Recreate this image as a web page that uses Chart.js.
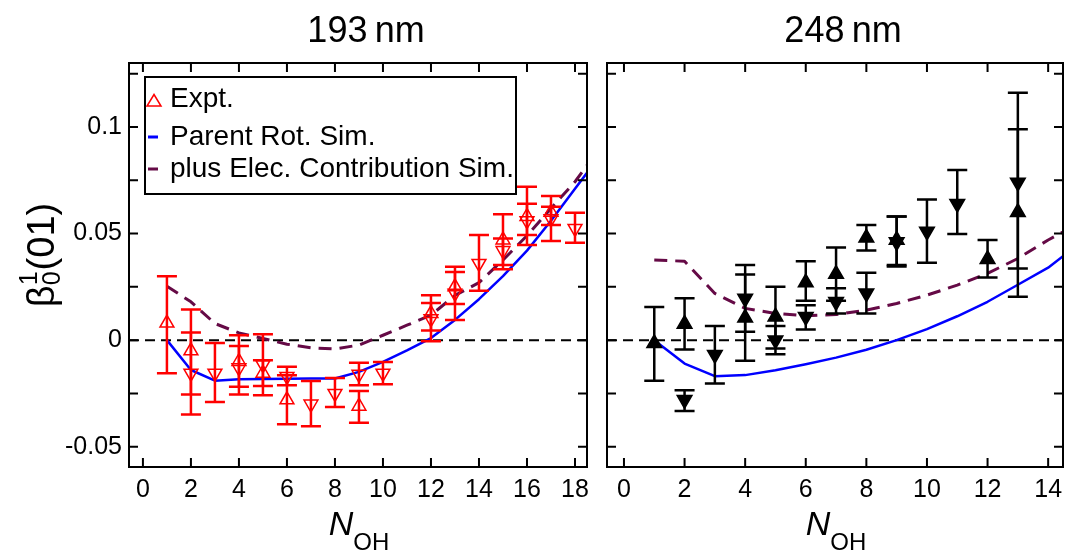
<!DOCTYPE html>
<html>
<head>
<meta charset="utf-8">
<script src="https://cdn.jsdelivr.net/npm/chart.js@4/dist/chart.umd.min.js"></script>
<style>
  html, body { margin: 0; padding: 0; background: #fff; }
  #wrap { position: relative; width: 1065px; height: 552px; overflow: hidden; }
  canvas { position: absolute; top: 0; }
  #c193 { left: 0; }
  #c248 { left: 597px; }
</style>
</head>
<body>
<div id="wrap">
  <canvas id="c193" width="597" height="552"></canvas>
  <canvas id="c248" width="468" height="552"></canvas>
</div>
<script>
const FONT = "'Liberation Sans', Arial, Helvetica, sans-serif";
const RED = "#ff0000";
const BLUE = "#0000ff";
const PURPLE = "#650a46";

// ---- 193 nm ----
const simN193 = [1, 2, 3, 4, 5, 6, 7, 8, 9, 10, 11, 12, 13, 14, 15, 16, 17, 18, 18.5];
const parentRot193 = [0, -0.014, -0.019, -0.0183, -0.0182, -0.0181, -0.018, -0.018, -0.0149, -0.0102,
  -0.0048, 0.001, 0.0095, 0.0192, 0.030, 0.042, 0.056, 0.071, 0.0785];
const elecContrib193 = [0.0253, 0.018, 0.0078, 0.0034, 0.0008, -0.0019, -0.0036, -0.0041, -0.0023, 0.0023,
  0.007, 0.0117, 0.021, 0.027, 0.0376, 0.049, 0.0618, 0.0743, 0.082];
// expt points: value with lower / upper end of the error bar
const exptUp193 = [
  { x: 1, y: 0.008, lo: -0.0155, hi: 0.030 },
  { x: 2, y: -0.005, lo: -0.0255, hi: 0.0144 },
  { x: 4, y: -0.010, lo: -0.0219, hi: 0.0023 },
  { x: 5, y: -0.0155, lo: -0.0215, hi: -0.0094 },
  { x: 6, y: -0.028, lo: -0.0394, hi: -0.0165 },
  { x: 9, y: -0.031, lo: -0.0388, hi: -0.0238 },
  { x: 12, y: 0.0125, lo: 0.0045, hi: 0.0211 },
  { x: 13, y: 0.025, lo: 0.017, hi: 0.0344 },
  { x: 15, y: 0.047, lo: 0.0352, hi: 0.059 },
  { x: 16, y: 0.058, lo: 0.0446, hi: 0.072 },
  { x: 17, y: 0.060, lo: 0.054, hi: 0.0676 },
];
const exptDown193 = [
  { x: 2, y: -0.0155, lo: -0.0349, hi: 0.0036 },
  { x: 3, y: -0.0155, lo: -0.029, hi: -0.0013 },
  { x: 4, y: -0.013, lo: -0.0255, hi: -0.0028 },
  { x: 5, y: -0.0115, lo: -0.0258, hi: 0.0028 },
  { x: 6, y: -0.017, lo: -0.0211, hi: -0.0125 },
  { x: 7, y: -0.030, lo: -0.0404, hi: -0.0192 },
  { x: 8, y: -0.025, lo: -0.0313, hi: -0.0177 },
  { x: 9, y: -0.016, lo: -0.0211, hi: -0.0106 },
  { x: 10, y: -0.0155, lo: -0.0207, hi: -0.0103 },
  { x: 12, y: 0.010, lo: -0.0005, hi: 0.0174 },
  { x: 13, y: 0.022, lo: 0.0094, hi: 0.032 },
  { x: 14, y: 0.036, lo: 0.0232, hi: 0.0493 },
  { x: 15, y: 0.042, lo: 0.0332, hi: 0.0477 },
  { x: 16, y: 0.056, lo: 0.0493, hi: 0.064 },
  { x: 17, y: 0.057, lo: 0.0465, hi: 0.0626 },
  { x: 18, y: 0.0524, lo: 0.0457, hi: 0.0598 },
];

// ---- 248 nm ----
const simN248 = [1, 2, 3, 4, 5, 6, 7, 8, 9, 10, 11, 12, 13, 14, 14.5];
const parentRot248 = [0, -0.011, -0.0169, -0.0164, -0.0141, -0.0113, -0.0082, -0.0045, 0.0, 0.0052,
  0.0112, 0.018, 0.026, 0.034, 0.0395];
const elecContrib248 = [0.0376, 0.037, 0.0219, 0.0149, 0.0125, 0.0114, 0.012, 0.0141, 0.0172, 0.0211,
  0.0258, 0.0313, 0.0383, 0.047, 0.0508];
const exptUp248 = [
  { x: 1, y: -0.0015, lo: -0.019, hi: 0.0156 },
  { x: 2, y: 0.0076, lo: -0.0044, hi: 0.0196 },
  { x: 4, y: 0.0105, lo: -0.0097, hi: 0.0308 },
  { x: 5, y: 0.011, lo: -0.0039, hi: 0.025 },
  { x: 6, y: 0.027, lo: 0.0185, hi: 0.037 },
  { x: 7, y: 0.031, lo: 0.0185, hi: 0.0435 },
  { x: 8, y: 0.048, lo: 0.042, hi: 0.054 },
  { x: 9, y: 0.047, lo: 0.0352, hi: 0.058 },
  { x: 12, y: 0.038, lo: 0.0294, hi: 0.047 },
  { x: 13, y: 0.060, lo: 0.0336, hi: 0.0989 },
];
const exptDown248 = [
  { x: 2, y: -0.028, lo: -0.0332, hi: -0.0235 },
  { x: 3, y: -0.0068, lo: -0.0203, hi: 0.0066 },
  { x: 4, y: 0.0195, lo: 0.0039, hi: 0.0352 },
  { x: 5, y: 0.0, lo: -0.0066, hi: 0.0066 },
  { x: 6, y: 0.011, lo: 0.005, hi: 0.0164 },
  { x: 7, y: 0.018, lo: 0.0125, hi: 0.0243 },
  { x: 8, y: 0.022, lo: 0.0125, hi: 0.0316 },
  { x: 9, y: 0.046, lo: 0.0345, hi: 0.058 },
  { x: 10, y: 0.051, lo: 0.0363, hi: 0.066 },
  { x: 11, y: 0.064, lo: 0.0498, hi: 0.0798 },
  { x: 13, y: 0.074, lo: 0.0203, hi: 0.116 },
];

// ---- axes ----
const xTicks193 = [0, 2, 4, 6, 8, 10, 12, 14, 16, 18];
const xTicks248 = [0, 2, 4, 6, 8, 10, 12, 14];
const yTicks = [-0.05, 0, 0.05, 0.1];
const yMinorTicks = [-0.05, -0.025, 0, 0.025, 0.05, 0.075, 0.1, 0.125];
const yRange = [-0.0595, 0.13];
const legendLabels = ["Expt.", "Parent Rot. Sim.", "plus Elec. Contribution Sim."];

const toXY = (xs, ys) => xs.map((x, i) => ({ x, y: ys[i] }));

// error bars are drawn under each dataset's markers
const errorBars = {
  id: "errorBars",
  beforeDatasetDraw(chart, args) {
    const ds = chart.data.datasets[args.index];
    if (!ds.errorColor) return;
    const { ctx, scales: { y } } = chart;
    const cap = 10;
    ctx.save();
    ctx.strokeStyle = ds.errorColor;
    ctx.lineWidth = 2.5;
    ds.data.forEach((d, i) => {
      const px = args.meta.data[i].x;
      const top = y.getPixelForValue(d.hi);
      const bot = y.getPixelForValue(d.lo);
      ctx.beginPath();
      ctx.moveTo(px, top);
      ctx.lineTo(px, bot);
      ctx.moveTo(px - cap, top);
      ctx.lineTo(px + cap, top);
      ctx.moveTo(px - cap, bot);
      ctx.lineTo(px + cap, bot);
      ctx.stroke();
    });
    ctx.restore();
  },
};

// frame, inward ticks, zero line, panel title and x title
const panelDecor = {
  id: "panelDecor",
  beforeDatasetsDraw(chart) {
    const { ctx, chartArea: a, scales: { y } } = chart;
    const y0 = y.getPixelForValue(0);
    ctx.save();
    ctx.strokeStyle = "#000";
    ctx.lineWidth = 2;
    ctx.setLineDash([10, 6]);
    ctx.beginPath();
    ctx.moveTo(a.left, y0);
    ctx.lineTo(a.right, y0);
    ctx.stroke();
    ctx.restore();
  },
  afterDraw(chart, args, opts) {
    const { ctx, chartArea: a, scales: { x, y } } = chart;
    const len = 9;
    ctx.save();
    ctx.strokeStyle = "#000";
    ctx.lineWidth = 2;
    ctx.strokeRect(a.left, a.top, a.right - a.left, a.bottom - a.top);
    ctx.beginPath();
    opts.xTicks.forEach((v) => {
      const px = x.getPixelForValue(v);
      ctx.moveTo(px, a.bottom);
      ctx.lineTo(px, a.bottom - len);
      ctx.moveTo(px, a.top);
      ctx.lineTo(px, a.top + len);
    });
    yMinorTicks.forEach((v) => {
      const py = y.getPixelForValue(v);
      ctx.moveTo(a.left, py);
      ctx.lineTo(a.left + len, py);
      ctx.moveTo(a.right, py);
      ctx.lineTo(a.right - len, py);
    });
    ctx.stroke();

    const cx = (a.left + a.right) / 2;
    ctx.fillStyle = "#000";
    ctx.textBaseline = "alphabetic";
    ctx.textAlign = "center";
    ctx.font = `36px ${FONT}`;
    ctx.fillText(opts.title, cx + 8, 42);

    // N_OH
    ctx.textAlign = "left";
    ctx.font = `italic 34px ${FONT}`;
    const wN = ctx.measureText("N").width;
    ctx.font = `24px ${FONT}`;
    const wOH = ctx.measureText("OH").width;
    const x0 = cx + 1 - (wN + wOH) / 2;
    ctx.font = `italic 34px ${FONT}`;
    ctx.fillText("N", x0, 535);
    ctx.font = `24px ${FONT}`;
    ctx.fillText("OH", x0 + wN, 550);
    ctx.restore();
  },
};

// legend box and y-axis title, only on the 193 nm panel
const legendBox = {
  id: "legendBox",
  afterDraw(chart) {
    const { ctx } = chart;
    ctx.save();
    ctx.fillStyle = "#fff";
    ctx.fillRect(145, 77, 371, 117);
    ctx.strokeStyle = "#000";
    ctx.lineWidth = 2;
    ctx.strokeRect(145, 77, 371, 117);

    ctx.strokeStyle = RED;
    ctx.lineWidth = 1.5;
    ctx.beginPath();
    ctx.moveTo(154, 94.5);
    ctx.lineTo(161, 106);
    ctx.lineTo(147, 106);
    ctx.closePath();
    ctx.stroke();

    ctx.lineWidth = 3;
    ctx.strokeStyle = BLUE;
    ctx.beginPath();
    ctx.moveTo(148, 137);
    ctx.lineTo(158, 137);
    ctx.stroke();
    ctx.strokeStyle = PURPLE;
    ctx.beginPath();
    ctx.moveTo(148, 169);
    ctx.lineTo(158, 169);
    ctx.stroke();

    ctx.fillStyle = "#000";
    ctx.font = `28px ${FONT}`;
    ctx.textAlign = "left";
    ctx.textBaseline = "alphabetic";
    ctx.fillText(legendLabels[0], 170, 107);
    ctx.fillText(legendLabels[1], 170, 145);
    ctx.fillText(legendLabels[2], 170, 177);

    // y title: beta_0^1(01)
    ctx.translate(54, 255);
    ctx.rotate(-Math.PI / 2);
    ctx.font = `38px ${FONT}`;
    const wB = ctx.measureText("β").width;
    const wP = ctx.measureText("(01)").width;
    ctx.font = `25px ${FONT}`;
    const wS = ctx.measureText("0").width;
    let tx = -(wB + wS + 1 + wP) / 2;
    ctx.font = `38px ${FONT}`;
    ctx.fillText("β", tx, 0);
    tx += wB;
    ctx.font = `25px ${FONT}`;
    ctx.fillText("0", tx, 6);
    ctx.fillText("1", tx, -17);
    tx += wS + 1;
    ctx.font = `38px ${FONT}`;
    ctx.fillText("(01)", tx, 0);
    ctx.restore();
  },
};

function buildChart(id, cfg) {
  const lineBase = { showLine: true, pointRadius: 0, fill: false, borderJoinStyle: "round" };
  const markBase = { showLine: false, pointBorderWidth: 1.5, pointStyle: "triangle" };
  const markFill = cfg.filled ? cfg.markColor : "rgba(0,0,0,0)";
  const markSize = cfg.filled ? 8.5 : 8;
  return new Chart(document.getElementById(id), {
    type: "scatter",
    data: {
      datasets: [
        {
          ...markBase,
          data: cfg.up,
          errorColor: cfg.markColor,
          pointBorderColor: cfg.markColor,
          pointBackgroundColor: markFill,
          pointRadius: markSize,
        },
        {
          ...markBase,
          data: cfg.down,
          errorColor: cfg.markColor,
          pointRotation: 180,
          pointBorderColor: cfg.markColor,
          pointBackgroundColor: markFill,
          pointRadius: markSize,
        },
        {
          ...lineBase,
          data: toXY(cfg.simN, cfg.parent),
          borderColor: BLUE,
          borderWidth: 2.5,
        },
        {
          ...lineBase,
          data: toXY(cfg.simN, cfg.elec),
          borderColor: PURPLE,
          borderWidth: 3,
          borderDash: [13, 8],
        },
      ],
    },
    options: {
      responsive: false,
      animation: false,
      events: [],
      layout: { padding: cfg.padding, autoPadding: false },
      plugins: {
        legend: { display: false },
        tooltip: { enabled: false },
        panelDecor: { title: cfg.title, xTicks: cfg.xTicks },
      },
      scales: {
        x: {
          type: "linear",
          min: cfg.xRange[0],
          max: cfg.xRange[1],
          afterBuildTicks: (s) => { s.ticks = cfg.xTicks.map((v) => ({ value: v })); },
          afterFit: (s) => {
            s.height = 85;
            s.paddingLeft = 0;
            s.paddingRight = 0;
          },
          // invisible tick marks only push the labels down
          grid: { display: false, drawTicks: true, tickLength: 8 },
          border: { display: false },
          ticks: {
            autoSkip: false,
            maxRotation: 0,
            padding: 0,
            color: "#000",
            font: { family: FONT, size: 25 },
            callback: (v) => String(v),
          },
        },
        y: {
          type: "linear",
          display: cfg.yWidth > 0,
          min: yRange[0],
          max: yRange[1],
          afterBuildTicks: (s) => { s.ticks = yTicks.map((v) => ({ value: v })); },
          afterFit: (s) => { s.width = cfg.yWidth; },
          grid: { display: false, drawTicks: false },
          border: { display: false },
          ticks: {
            autoSkip: false,
            padding: 7,
            color: "#000",
            font: { family: FONT, size: 25 },
            callback: (v) => String(v),
          },
        },
      },
    },
    plugins: cfg.extra ? [panelDecor, errorBars, cfg.extra] : [panelDecor, errorBars],
  });
}

buildChart("c193", {
  title: "193\u2009nm",
  simN: simN193, parent: parentRot193, elec: elecContrib193,
  up: exptUp193, down: exptDown193,
  markColor: RED, filled: false,
  xTicks: xTicks193, xRange: [-0.58, 18.5],
  yWidth: 129,
  padding: { top: 63, right: 10, bottom: 0, left: 0 },
  extra: legendBox,
});

buildChart("c248", {
  title: "248\u2009nm",
  simN: simN248, parent: parentRot248, elec: elecContrib248,
  up: exptUp248, down: exptDown248,
  markColor: "#000", filled: true,
  xTicks: xTicks248, xRange: [-0.56, 14.49],
  yWidth: 0,
  padding: { top: 63, right: 2, bottom: 0, left: 10 },
});
</script>
</body>
</html>
